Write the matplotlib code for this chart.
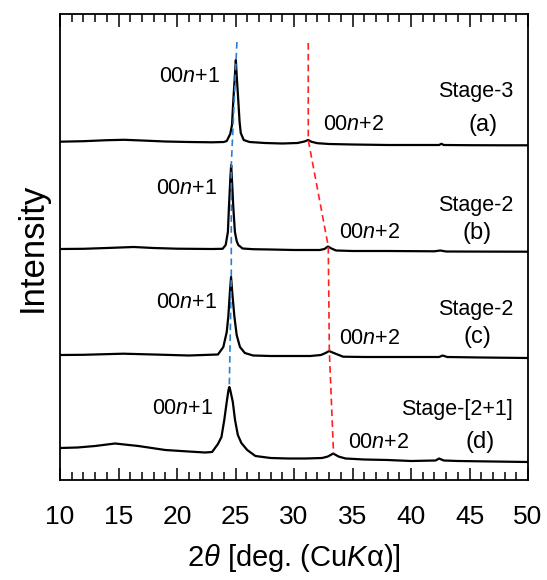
import matplotlib
matplotlib.use("Agg")
import matplotlib.pyplot as plt
from matplotlib.ticker import MultipleLocator

plt.rcParams['font.family'] = ['Liberation Sans', 'DejaVu Sans']
plt.rcParams['mathtext.fontset'] = 'custom'
plt.rcParams['mathtext.rm'] = 'Liberation Sans'
plt.rcParams['mathtext.it'] = 'Liberation Sans:italic'

# ---- data (2theta in deg, intensity in arbitrary offset units) ----
tt_a = [10, 12, 14, 15.5, 17, 19, 21, 23, 24.0, 24.25, 24.55, 24.7, 24.81, 24.95, 25.03, 25.1,
        25.24, 25.35, 25.45, 25.7, 26.2, 27.5, 29, 30.3, 30.9, 31.2, 31.5, 32, 33, 35, 38, 41,
        42.4, 42.6, 42.8, 45, 48, 50]
I_a = [338.3, 338.8, 339.8, 340.2, 339.5, 338.5, 338, 337.7, 338, 339, 346, 355, 379, 405, 420, 405,
       379, 358, 347, 340, 338, 337, 336.5, 337, 338.5, 340, 338.2, 336.8, 336, 335.5, 335, 335,
       335, 336.2, 335, 334.8, 334.7, 334.7]

tt_b = [10, 12, 14, 16.3, 18, 20, 23, 23.9, 24.16, 24.35, 24.44, 24.55, 24.63, 24.72, 24.81, 24.95,
        25.1, 25.24, 25.6, 26.5, 28, 30, 32.2, 32.6, 32.9, 33.2, 33.6, 35, 38, 42, 42.5, 43, 46, 50]
I_b = [231, 231.2, 232, 233, 232, 231.3, 231, 231.2, 235, 248, 273, 300, 315, 295, 273, 248,
       239, 235, 231.5, 230.8, 230.5, 230, 230, 231, 233.5, 231.5, 229.5, 229, 229, 228.7, 229.5,
       228.5, 228.4, 228.3]

tt_c = [10, 12, 15.4, 18, 21, 23.5, 23.96, 24.25, 24.39, 24.52, 24.62, 24.72, 24.9, 25.1, 25.38,
        25.8, 26.5, 28, 31.4, 32.3, 32.7, 33.0, 33.4, 34.2, 36, 40, 42.4, 42.7, 43.1, 46, 50]
I_c = [125, 125.2, 126.3, 125.5, 124.5, 125.5, 133, 148, 164, 188, 203, 188, 164, 145, 133,
       127, 124.5, 124, 124, 125, 127, 129, 127, 123.3, 123, 123, 123, 124.5, 123, 122.5, 122]

tt_d = [10, 11.5, 13, 14.7, 16.7, 19, 21, 22.4, 23.0, 23.5, 23.8, 24.04, 24.25, 24.4, 24.47, 24.55,
        24.77, 24.96, 25.2, 25.5, 26.0, 26.7, 28, 29.5, 31, 32.4, 32.9, 33.35, 33.8, 34.4, 36, 38,
        40, 42.1, 42.4, 42.8, 44, 47, 50]
I_d = [32, 32.5, 34, 36.5, 34, 30, 28.5, 27.5, 28, 36, 43, 60, 78, 90, 93, 90,
       78, 60, 45, 37, 30, 24, 22, 21.5, 21.5, 22, 23.5, 26.5, 23.5, 21.5, 20.5, 20,
       19, 19.5, 21.5, 19.5, 19, 18.5, 18]

# guide lines through peak positions
guide1_tt = [25.12, 24.64, 24.64, 24.47]
guide1_I = [438, 315, 203, 93]
guide2_tt = [31.22, 31.22, 32.93, 33.02, 33.38]
guide2_I = [437, 340, 233.5, 129, 26.5]

stage_labels = ['Stage-3', 'Stage-2', 'Stage-2', 'Stage-[2+1]']
panel_labels = ['(a)', '(b)', '(c)', '(d)']
peak1_label = '00$\\mathit{n}$+1'
peak2_label = '00$\\mathit{n}$+2'

# ---- figure ----
fig = plt.figure(figsize=(5.47, 5.80), dpi=100)
ax = fig.add_axes([60/547, 100/580, 468/547, 466/580])

for tt, I in [(tt_a, I_a), (tt_b, I_b), (tt_c, I_c), (tt_d, I_d)]:
    ax.plot(tt, I, color='black', lw=1.6, zorder=3)

ax.plot(guide1_tt, guide1_I, color='#2a7fd4', lw=1.2, ls=(0, (4, 2.5)), zorder=4)
ax.plot(guide2_tt, guide2_I, color='#ff2020', lw=1.2, ls=(0, (4, 2.5)), zorder=4)

fs = 15.5
p1_pos = [(21.1, 403), (20.85, 292), (20.85, 178), (20.47, 71)]
p2_pos = [(35.13, 355), (36.5, 247), (36.5, 142), (37.2, 37)]
st_y = [389, 275, 170, 70]
pl_pos = [(46.15, 355), (45.64, 247), (45.64, 143), (45.9, 38)]
for i in range(4):
    ax.text(*p1_pos[i], peak1_label, ha='center', va='center', fontsize=fs)
    ax.text(*p2_pos[i], peak2_label, ha='center', va='center', fontsize=fs)
    ax.text(48.72, st_y[i], stage_labels[i], ha='right', va='center', fontsize=fs)
    ax.text(*pl_pos[i], panel_labels[i], ha='center', va='center', fontsize=fs + 1.5)

ax.set_xlim(10, 50)
ax.set_ylim(0, 466)
ax.xaxis.set_major_locator(MultipleLocator(5))
ax.xaxis.set_minor_locator(MultipleLocator(1))
ax.tick_params(axis='x', which='both', direction='in', top=True, bottom=True,
               labelsize=19, pad=18, width=1.1)
ax.tick_params(axis='x', which='major', length=9)
ax.tick_params(axis='x', which='minor', length=5.5)
ax.set_yticks([])
for s in ax.spines.values():
    s.set_linewidth(1.3)

ax.set_xlabel('2$\\mathit{\\theta}$ [deg. (Cu$\\mathit{K}$\u03b1)]', fontsize=21, labelpad=9)
ax.set_ylabel('Intensity', fontsize=25, labelpad=8)

fig.savefig('out.png', dpi=100)
